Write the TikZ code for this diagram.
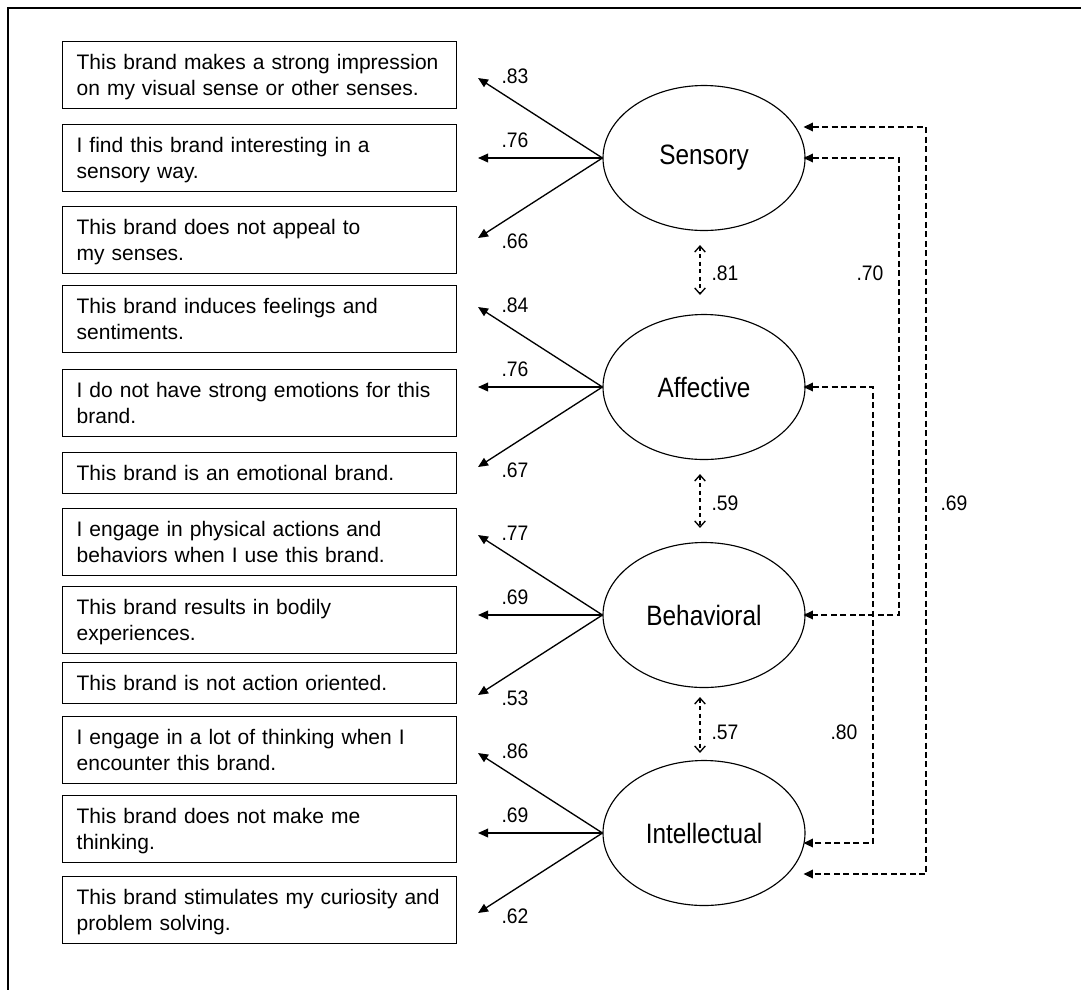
\documentclass[tikz,border=0pt]{standalone}
\usepackage{fontspec}
\setmainfont{Liberation Sans}
\newfontfamily\latentfont[FakeStretch=0.87]{Liberation Sans}
\newfontfamily\coeffont[FakeStretch=0.92]{Liberation Sans}
\usetikzlibrary{arrows.meta,shapes.geometric,calc}

\begin{document}
\begin{tikzpicture}[x=0.75pt,y=-0.75pt,
  item/.style={draw, line width=1pt, anchor=north west, inner xsep=10.5pt,
    inner ysep=0pt, text width=274.5pt, align=left,
    font=\fontsize{15.75pt}{19.5pt}\selectfont, text height=21pt},
  item1/.style={item, text depth=9.75pt},
  item2/.style={item, text depth=29.25pt},
  latent/.style={draw, ellipse, line width=0.85pt, minimum width=151.5pt,
    minimum height=108.75pt, inner sep=0pt,
    font=\latentfont\fontsize{21pt}{25pt}\selectfont},
  load/.style={-{Triangle[length=7.5pt,width=6.5pt]}, line width=1pt},
  corr/.style={{Triangle[length=7pt,width=6.5pt]}-{Triangle[length=7pt,width=6.5pt]},
    line width=1pt, dash pattern=on 4.5pt off 2.6pt},
  adjcorr/.style={{Straight Barb[length=4.5pt,width=8pt,line width=1pt]}-{Straight Barb[length=4.5pt,width=8pt,line width=1pt]},
    line width=1pt, dash pattern=on 3pt off 2.6pt},
  coef/.style={font=\coeffont\fontsize{15.75pt}{19pt}\selectfont, inner sep=0pt},
]
\useasboundingbox (0,0) rectangle (1081,990);

% frame
\draw[line width=1.5pt] (1081,8) -- (8,8) -- (8,990);

% indicator items
\node[item2] (i1)  at (62,41)  {This brand makes a strong impression\\on my visual sense or other senses.};
\node[item2] (i2)  at (62,124) {I find this brand interesting in a\\sensory way.};
\node[item2] (i3)  at (62,206) {This brand does not appeal to\\my senses.};
\node[item2] (i4)  at (62,285) {This brand induces feelings and\\sentiments.};
\node[item2] (i5)  at (62,369) {I do not have strong emotions for this\\brand.};
\node[item1] (i6)  at (62,452) {This brand is an emotional brand.};
\node[item2] (i7)  at (62,508) {I engage in physical actions and\\behaviors when I use this brand.};
\node[item2] (i8)  at (62,586) {This brand results in bodily\\experiences.};
\node[item1] (i9)  at (62,662) {This brand is not action oriented.};
\node[item2] (i10) at (62,716) {I engage in a lot of thinking when I\\encounter this brand.};
\node[item2] (i11) at (62,795) {This brand does not make me\\thinking.};
\node[item2] (i12) at (62,876) {This brand stimulates my curiosity and\\problem solving.};

% latent factors
\node[latent] (S) at (704,158) {Sensory};
\node[latent] (A) at (704,387) {Affective};
\node[latent] (B) at (704,615) {Behavioral};
\node[latent] (I) at (704,833) {Intellectual};

% factor loadings
\foreach \L/\a/\b/\c in {S/.83/.76/.66, A/.84/.76/.67, B/.77/.69/.53, I/.86/.69/.62}{
  \draw[load] (\L.west) -- ($(\L.center)+(-226,-80)$);
  \draw[load] (\L.west) -- ($(\L.center)+(-226,0)$);
  \draw[load] (\L.west) -- ($(\L.center)+(-226,80)$);
  \node[coef] (\L-c1) at ($(\L.center)+(-189,-82)$) {\a};
  \node[coef] (\L-c2) at ($(\L.center)+(-189,-18)$) {\b};
  \node[coef] (\L-c3) at ($(\L.center)+(-189,83)$) {\c};
}

% correlations between neighbouring factors
\draw[adjcorr] ([xshift=-3pt,yshift=-10.5pt]S.south) -- ([xshift=-3pt,yshift=14.25pt]A.north);
\draw[adjcorr] ([xshift=-3pt,yshift=-10.5pt]A.south) -- ([xshift=-3pt,yshift=10.5pt]B.north);
\draw[adjcorr] ([xshift=-3pt,yshift=-6.75pt]B.south) -- ([xshift=-3pt,yshift=5.25pt]I.north);
\node[coef] (r81) at (725,273) {.81};
\node[coef] (r59) at (725,503) {.59};
\node[coef] (r57) at (725,732) {.57};

% correlations between distant factors
\coordinate (x69) at (926,0);
\coordinate (x70) at (899,0);
\coordinate (x80) at (873,0);
\coordinate (s69) at ([xshift=-1.5pt,yshift=23.25pt]S.east);
\coordinate (i69) at ([xshift=-1.5pt,yshift=-30.75pt]I.east);
\coordinate (s70) at ([xshift=-1.5pt]S.east);
\coordinate (b70) at ([xshift=-1.5pt]B.east);
\coordinate (a80) at ([xshift=-1.5pt]A.east);
\coordinate (i80) at ([xshift=-1.5pt,yshift=-7.5pt]I.east);
\draw[corr] (s69) -- (s69 -| x69) -- (i69 -| x69) -- (i69);
\draw[corr] (s70) -- (s70 -| x70) -- (b70 -| x70) -- (b70);
\draw[corr] (a80) -- (a80 -| x80) -- (i80 -| x80) -- (i80);
\node[coef] (r69) at (954,503) {.69};
\node[coef] (r70) at (870,273) {.70};
\node[coef] (r80) at (844,732) {.80};
\end{tikzpicture}
\end{document}
